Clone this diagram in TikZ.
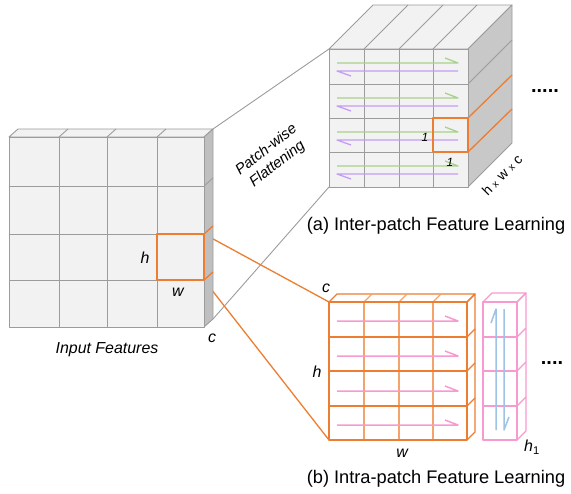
\documentclass[tikz,border=0pt]{standalone}
\usepackage{fontspec}
\setmainfont{Liberation Sans}
\definecolor{face}{HTML}{F2F2F2}
\definecolor{sidein}{HTML}{BFBFBF}
\definecolor{sidefl}{HTML}{C8C8C8}
\definecolor{lgray}{HTML}{9C9C9C}
\definecolor{orng}{HTML}{ED7D31}
\definecolor{lorng}{HTML}{F4A36A}
\definecolor{grn}{HTML}{A9D18E}
\definecolor{prp}{HTML}{C59CF5}
\definecolor{pnk}{HTML}{F79AD0}
\definecolor{blu}{HTML}{9DC3E6}
\begin{document}
\begin{tikzpicture}[x=1bp,y=-1bp,line join=round,
  gl/.style={draw=lgray,line width=0.9bp},
  ol/.style={draw=orng,line width=1.3bp},
  olthick/.style={draw=orng,line width=1.8bp},
  olin/.style={draw=lorng,line width=1.1bp},
  pl/.style={draw=pnk,line width=1.1bp},
  garr/.style={draw=grn,line width=1.3bp},
  parr/.style={draw=prp,line width=1.3bp},
  karr/.style={draw=pnk,line width=1.5bp},
  barr/.style={draw=blu,line width=1.5bp},
  lbl/.style={inner sep=0pt,font=\fontsize{16}{18}\selectfont\itshape},
  captxt/.style={inner sep=0pt,font=\fontsize{18.3}{20}\selectfont},
  dotstxt/.style={inner sep=0pt,font=\fontsize{20}{22}\selectfont\bfseries}]
\useasboundingbox (0,0) rectangle (571,494);

% ---------- named corner coordinates ----------
\coordinate (inTR) at (213,129);
\coordinate (inBR) at (213,319);
\coordinate (sqT) at (204,234);
\coordinate (sqB) at (204,280);
\coordinate (flTL) at (329,49);
\coordinate (flBL) at (329,187);
\coordinate (loTL) at (329,302);
\coordinate (loBL) at (329,440);

% ---------- connectors ----------
\draw[gl] (inTR) -- (flTL);
\draw[gl] (inBR) -- (flBL);
\draw[ol] (sqT) -- (loTL);
\draw[ol] (sqB) -- (loBL);

% ---------- input feature block ----------
\filldraw[fill=face,gl] (9,137) -- (18,129) -- (213,129) -- (204,137) -- cycle;
\foreach \x in {59,107,157} \draw[gl] (\x,137) -- ++(9,-8);
\filldraw[fill=sidein,gl] (204,137) -- (213,129) -- (213,319) -- (204,327) -- cycle;
\draw[gl] (204,186) -- ++(9,-8);
\draw[ol] (204,234) -- ++(9,-8);
\draw[ol] (204,280) -- ++(9,-8);
\filldraw[fill=face,gl] (9,137) rectangle (204,327);
\foreach \x in {59,107,157} \draw[gl] (\x,137) -- (\x,327);
\foreach \y in {186,234,280} \draw[gl] (9,\y) -- (204,\y);
\draw[olthick] (157,234) rectangle (204,280);

\node[lbl] (ih) at (145,258) {h};
\node[lbl] (iw) at (178,292) {w};
\node[lbl] (ic) at (212,338) {c};
\node[lbl] (ifeat) at (107,350) {Input Features};

% ---------- patch-wise flattening label ----------
\node[inner sep=0pt,font=\fontsize{15}{18}\selectfont\itshape,align=center,rotate=38] (pwf) at (272,157) {Patch-wise\\Flattening};

% ---------- flattened block ----------
\filldraw[fill=face,gl] (329,49) -- (373,5) -- (512,5) -- (468,49) -- cycle;
\foreach \x in {364,399,433} \draw[gl] (\x,49) -- ++(44,-44);
\filldraw[fill=sidefl,gl] (468,49) -- (512,5) -- (512,143) -- (468,187) -- cycle;
\draw[gl] (468,84) -- ++(44,-44);
\draw[ol] (468,118) -- ++(44,-43);
\draw[ol] (468,152) -- ++(44,-43);
\filldraw[fill=face,gl] (329,49) rectangle (468,187);
\foreach \x in {364,399,433} \draw[gl] (\x,49) -- (\x,187);
\foreach \y in {84,118,152} \draw[gl] (329,\y) -- (468,\y);
\foreach \t in {49,84,118,152} {
  \draw[garr] (337,\t+14) -- (458,\t+14) -- (445,\t+9);
  \draw[parr] (458,\t+22) -- (337,\t+22) -- (351,\t+27);
}
\draw[olthick] (433,118) rectangle (468,152);
\node[inner sep=0pt,font=\fontsize{12}{14}\selectfont\itshape] (one1) at (425,137) {1};
\node[inner sep=0pt,font=\fontsize{12}{14}\selectfont\itshape] (one2) at (450,162) {1};
\node[inner sep=0pt,font=\fontsize{14}{16}\selectfont,rotate=45] (hwc) at (502,175) {h {\fontsize{10}{12}\selectfont x} w {\fontsize{10}{12}\selectfont x} c};
\node[dotstxt] (dotsa) at (545,91) {.....};
\node[captxt] (capa) at (436,226) {(a) Inter-patch Feature Learning};

% ---------- intra-patch block ----------
\draw[ol] (329,302) -- (337,294) -- (475,294) -- (467,302);
\foreach \x in {364,399,433} \draw[olin] (\x,302) -- ++(8,-8);
\draw[ol] (467,302) -- (475,294) -- (475,432) -- (467,440);
\foreach \y in {337,371,406} \draw[ol] (467,\y) -- ++(8,-8);
\foreach \x in {364,399,433} \draw[olin] (\x,302) -- (\x,440);
\foreach \y in {337,371,406} \draw[ol] (329,\y) -- (467,\y);
\draw[olthick] (329,302) rectangle (467,440);
\foreach \y in {321,356,391,425} \draw[karr] (337,\y) -- (458,\y) -- (445,\y-5);
\node[lbl] (lc) at (326,288) {c};
\node[lbl] (lh) at (317,372) {h};
\node[lbl] (lw) at (402,453) {w};

% ---------- pink column ----------
\draw[pl] (483,302) -- (492,293) -- (526,293) -- (517,302);
\draw[pl] (517,302) -- (526,293) -- (526,431) -- (517,440);
\foreach \y in {337,371,406} {
  \draw[pl] (483,\y) -- (517,\y);
  \draw[pl] (517,\y) -- ++(9,-9);
}
\draw[pl] (483,302) rectangle (517,440);
\draw[barr] (496,430) -- (496,309) -- (491,323);
\draw[barr] (504,309) -- (504,430) -- (509,417);
\node[lbl] (lh1) at (532,447) {h\textsubscript{\upshape 1}};
\node[dotstxt] (dotsb) at (552,363) {....};
\node[captxt] (capb) at (436,479) {(b) Intra-patch Feature Learning};
\end{tikzpicture}
\end{document}
